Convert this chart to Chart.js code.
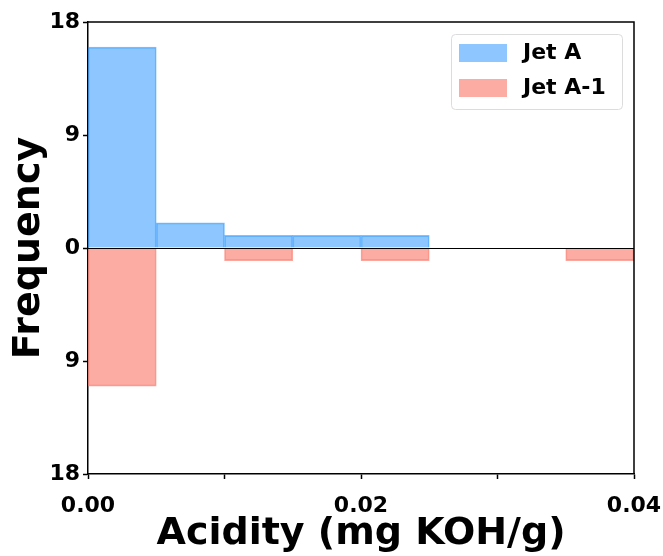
<!DOCTYPE html>
<html>
<head>
<meta charset="utf-8">
<script src="https://cdn.jsdelivr.net/npm/chart.js@4.4.1/dist/chart.umd.min.js"></script>
<style>
  html, body { margin: 0; padding: 0; background: #fff; }
  #wrap { width: 663px; height: 556px; }
</style>
</head>
<body>
<div id="wrap"><canvas id="c" width="663" height="556"></canvas></div>
<script>
'use strict';

// Histogram bins (centres, mg KOH/g), width 0.005
var binCentres = [0.0025, 0.0075, 0.0125, 0.0175, 0.0225, 0.0275, 0.0325, 0.0375];
var jetA = [16, 2, 1, 1, 1, null, null, null];
var jetA1 = [11, null, 1, null, 1, null, null, 1];   // drawn downward
var seriesNames = ['Jet A', 'Jet A-1'];
var xLabelTicks = [0, 0.02, 0.04];

var FONT = 'DejaVu Sans';
var BLUE = 'rgba(30,144,255,0.5)';
var RED = 'rgba(250,128,114,0.65)';

function points(vals, sign) {
  return binCentres.map(function (x, i) {
    return { x: x, y: vals[i] === null ? null : sign * vals[i] };
  });
}

//
// Frame (top/right spines), zero line and in-plot legend.
//
var decor = {
  id: 'decor',
  afterDatasetsDraw: function (chart) {
    var ctx = chart.ctx, a = chart.chartArea;
    var y0 = chart.scales.y.getPixelForValue(0);
    ctx.save();
    ctx.strokeStyle = '#000';
    ctx.lineWidth = 1;
    ctx.beginPath();
    ctx.moveTo(a.left, y0 + 0.5);
    ctx.lineTo(a.right, y0 + 0.5);
    ctx.stroke();
    ctx.lineWidth = 1.5;
    ctx.beginPath();
    ctx.moveTo(a.left, a.top);
    ctx.lineTo(a.right, a.top);
    ctx.lineTo(a.right, a.bottom);
    ctx.stroke();
    ctx.restore();
  },
  afterDraw: function (chart) {
    var ctx = chart.ctx;
    var bx = 451, by = 34, bw = 171, bh = 75, r = 4;
    ctx.save();
    ctx.fillStyle = 'rgba(255,255,255,0.8)';
    ctx.strokeStyle = '#dcdcdc';
    ctx.lineWidth = 1;
    ctx.beginPath();
    ctx.roundRect(bx + 0.5, by + 0.5, bw, bh, r);
    ctx.fill();
    ctx.stroke();
    ctx.font = 'bold 22px "' + FONT + '"';
    ctx.textBaseline = 'middle';
    chart.data.datasets.forEach(function (ds, i) {
      var sy = 44 + i * 35;
      ctx.fillStyle = ds.backgroundColor;
      ctx.fillRect(459, sy, 48, 18);
      ctx.fillStyle = '#000';
      ctx.fillText(ds.label, 523, sy + 9);
    });
    ctx.restore();
  }
};

new Chart(document.getElementById('c'), {
  type: 'bar',
  data: {
    datasets: [
      { label: seriesNames[0], data: points(jetA, 1), backgroundColor: BLUE,
        borderColor: 'rgba(30,144,255,0.55)', borderWidth: 1 },
      { label: seriesNames[1], data: points(jetA1, -1), backgroundColor: RED,
        borderColor: 'rgba(250,128,114,0.7)', borderWidth: 1 }
    ]
  },
  options: {
    responsive: false,
    animation: false,
    grouped: false,
    categoryPercentage: 1,
    barPercentage: 1,
    layout: { padding: { left: 0, top: 22, right: 29, bottom: 0 } },
    plugins: { legend: { display: false }, tooltip: { enabled: false } },
    scales: {
      x: {
        type: 'linear',
        min: 0, max: 0.04,
        offset: false,
        afterFit: function (s) { s.height = 82; s.paddingLeft = 0; s.paddingRight = 0; },
        border: { display: true, color: '#000', width: 1.5 },
        grid: { display: true, offset: false, drawOnChartArea: false, tickLength: 5, color: '#000', tickColor: '#000', tickWidth: 1.5 },
        ticks: {
          stepSize: 0.01, padding: 14, color: '#000', maxRotation: 0, autoSkip: false,
          font: { family: FONT, size: 22, weight: 'bold' },
          callback: function (v) {
            var keep = xLabelTicks.some(function (t) { return Math.abs(t - v) < 1e-9; });
            return keep ? v.toFixed(2) : '';
          }
        },
        title: {
          display: true, text: 'Acidity (mg KOH/g)', color: '#000',
          font: { family: FONT, size: 38, weight: 'bold', lineHeight: 1 },
          padding: { top: 0, bottom: 3 }
        }
      },
      y: {
        min: -18, max: 18,
        afterFit: function (s) { s.width = 88; s.paddingTop = 0; s.paddingBottom = 0; },
        border: { display: true, color: '#000', width: 1.5 },
        grid: { display: true, drawOnChartArea: false, tickLength: 5, color: '#000', tickColor: '#000', tickWidth: 1.5 },
        ticks: {
          stepSize: 9, padding: 3, color: '#000',
          font: { family: FONT, size: 22, weight: 'bold' },
          callback: function (v) { return String(Math.abs(v)); }
        },
        title: {
          display: true, text: 'Frequency', color: '#000',
          font: { family: FONT, size: 38, weight: 'bold', lineHeight: 1 },
          padding: { top: 10, bottom: 0 }
        }
      }
    }
  },
  plugins: [decor]
});
</script>
</body>
</html>
